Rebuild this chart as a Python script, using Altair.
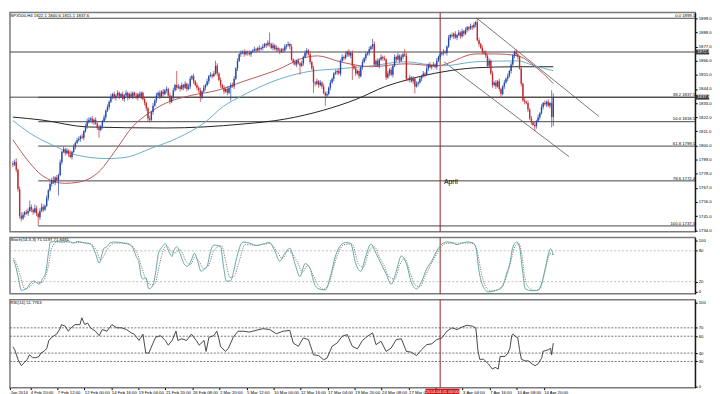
import json
import altair as alt
import pandas as pd

# ---------------- data ----------------
first_open = 1786
closes = [
    1785, 1787, 1781, 1766, 1745, 1743, 1746, 1748, 1747, 1749,
    1752, 1750, 1748, 1751, 1747, 1744, 1749, 1752, 1750, 1753,
    1759, 1765, 1770, 1773, 1771, 1775, 1773, 1777, 1787, 1795,
    1797, 1794, 1796, 1793, 1791, 1795, 1799, 1802, 1804, 1805,
    1807, 1806, 1811, 1815, 1818, 1820, 1821, 1818, 1820, 1817,
    1814, 1812, 1815, 1819, 1822, 1827, 1830, 1834, 1838, 1840,
    1837, 1839, 1841, 1838, 1840, 1836, 1839, 1841, 1837, 1840,
    1838, 1841, 1839, 1837, 1840, 1838, 1841, 1836, 1833, 1829,
    1821, 1820, 1826, 1831, 1835, 1839, 1841, 1838, 1842, 1840,
    1843, 1844, 1839, 1834, 1838, 1843, 1847, 1845, 1846, 1844,
    1847, 1845, 1848, 1844, 1846, 1852, 1854, 1850, 1847, 1845,
    1843, 1838, 1842, 1845, 1847, 1850, 1854, 1855, 1854, 1856,
    1862, 1856, 1851, 1847, 1845, 1842, 1844, 1841, 1845, 1847,
    1846, 1852, 1860, 1866, 1871, 1872, 1873, 1871, 1873, 1872,
    1871, 1873, 1874, 1875, 1874, 1876, 1875, 1876, 1877, 1879,
    1878, 1880, 1879, 1876, 1878, 1875, 1876, 1874, 1873, 1875,
    1874, 1877, 1878, 1879, 1877, 1867, 1865, 1863, 1866, 1864,
    1862, 1864, 1869, 1872, 1874, 1871, 1865, 1860, 1849, 1848,
    1850, 1847, 1849, 1846, 1841, 1839, 1840, 1845, 1849, 1852,
    1856, 1857, 1858, 1856, 1866, 1869, 1868, 1871, 1873, 1870,
    1872, 1862, 1860, 1856, 1858, 1854, 1861, 1865, 1868, 1871,
    1872, 1875, 1877, 1879, 1863, 1866, 1862, 1867, 1869, 1868,
    1867, 1853, 1856, 1859, 1855, 1862, 1869, 1867, 1870, 1866,
    1869, 1871, 1870, 1852, 1851, 1853, 1850, 1852, 1846, 1848,
    1849, 1852, 1854, 1856, 1855, 1860, 1863, 1861, 1862, 1863,
    1861, 1866, 1869, 1871, 1872, 1873, 1872, 1877, 1884, 1886,
    1885, 1887, 1884, 1886, 1888, 1885, 1889, 1887, 1890, 1892,
    1891, 1893, 1892, 1894, 1896, 1882, 1879, 1876, 1873, 1872,
    1870, 1862, 1866, 1856, 1847, 1849, 1846, 1850, 1844, 1840,
    1846, 1849, 1852, 1854, 1858, 1863, 1870, 1873, 1871, 1869,
    1860, 1848, 1835, 1834, 1833, 1828, 1821, 1818, 1816, 1815,
    1819, 1822, 1825, 1830, 1833, 1832, 1834, 1831, 1833, 1822.1,
    1837.6,
]
wick_up = [
    2, 2, 3, 1, 2, 3, 2, 1, 2, 2,   5, 2, 1, 3, 2, 1, 2, 3, 2, 1,
    2, 1, 2, 2, 3, 1, 2, 1, 2, 1,   2, 1, 2, 1, 3, 1, 2, 1, 2, 2,
    1, 2, 1, 2, 3, 2, 1, 2, 1, 2,   1, 2, 1, 1, 2, 1, 2, 1, 2, 1,
    2, 1, 2, 1, 1, 2, 1, 2, 1, 1,   2, 1, 1, 2, 1, 2, 1, 1, 2, 1,
    1, 2, 1, 2, 1, 2, 1, 2, 1, 2,   1, 2, 1, 2, 1, 2, 1, 11, 2, 1,
    2, 1, 2, 1, 2, 2, 1, 2, 1, 2,   1, 2, 1, 2, 1, 2, 1, 2, 1, 2,
    4, 2, 1, 2, 1, 2, 1, 2, 1, 2,   2, 2, 1, 2, 1, 2, 1, 2, 1, 1,
    2, 1, 1, 2, 1, 1, 2, 1, 2, 1,   1, 2, 8, 1, 2, 1, 2, 1, 2, 1,
    1, 2, 1, 2, 1, 2, 1, 2, 1, 2,   1, 2, 1, 2, 2, 1, 2, 1, 2, 1,
    2, 1, 2, 1, 2, 1, 2, 1, 2, 1,   1, 2, 1, 2, 1, 2, 1, 2, 1, 2,
    1, 2, 1, 2, 1, 2, 1, 2, 1, 2,   1, 2, 1, 4, 2, 1, 2, 1, 2, 1,
    2, 1, 2, 1, 2, 1, 2, 1, 2, 1,   2, 1, 4, 2, 1, 2, 1, 2, 1, 2,
    1, 2, 1, 2, 1, 2, 1, 2, 1, 2,   1, 2, 1, 2, 1, 2, 1, 1, 2, 1,
    2, 1, 2, 1, 2, 1, 2, 1, 2, 1,   1, 2, 1, 2, 1, 3.1, 2, 1, 2, 1,
    2, 1, 2, 1, 2, 1, 2, 1, 2, 1,   1, 2, 1, 2, 1, 2, 1, 1, 2, 1,
    1, 2, 1, 2, 1, 2, 1, 2, 1, 2,   1, 2, 1, 2, 1, 2, 1, 2, 1, 10,
    3,
]
wick_dn = [
    2, 1, 2, 2, 2, 2, 1, 2, 1, 2,   1, 2, 2, 1, 2, 6.7, 2, 1, 2, 1,
    1, 2, 1, 2, 1, 2, 1, 12, 1, 2,  1, 2, 1, 2, 1, 2, 1, 2, 1, 1,
    2, 1, 2, 1, 2, 1, 2, 1, 2, 1,   2, 6, 1, 2, 1, 2, 1, 2, 1, 2,
    1, 2, 1, 2, 1, 1, 2, 1, 2, 1,   1, 2, 1, 1, 2, 1, 2, 1, 2, 2,
    2, 2, 1, 2, 1, 2, 1, 2, 1, 2,   1, 2, 1, 2, 1, 2, 1, 2, 1, 2,
    1, 2, 1, 2, 1, 2, 1, 2, 1, 2,   2, 4, 2, 1, 2, 1, 2, 1, 2, 1,
    1, 2, 1, 2, 1, 2, 1, 2, 1, 10,  1, 2, 1, 2, 1, 2, 1, 2, 1, 2,
    1, 2, 1, 1, 2, 1, 2, 1, 2, 1,   2, 1, 2, 1, 2, 1, 2, 1, 2, 1,
    2, 1, 2, 1, 2, 1, 2, 1, 2, 1,   7, 1, 2, 1, 2, 1, 2, 1, 8, 2,
    1, 2, 1, 2, 1, 8.5, 2, 1, 2, 1, 2, 1, 2, 1, 2, 1, 2, 1, 2, 1,
    2, 11, 1, 2, 1, 2, 1, 2, 1, 2,  1, 2, 1, 2, 1, 2, 1, 2, 1, 2,
    1, 2, 1, 2, 1, 2, 1, 2, 1, 2,   1, 2, 1, 2, 1, 2, 1, 2, 5.5, 1,
    2, 1, 2, 1, 2, 1, 2, 1, 2, 1,   1, 2, 1, 2, 1, 2, 1, 2, 1, 2,
    1, 2, 1, 2, 1, 2, 1, 2, 1, 2,   2, 1, 2, 1, 2, 1, 2, 1, 2, 1,
    2, 1, 2, 1, 2, 1, 2, 1, 2, 3,   1, 2, 1, 2, 1, 2, 1, 2, 1, 2,
    1, 2, 1, 2, 1, 2, 1, 2, 1, 4,   2, 1, 2, 1, 2, 1, 2, 1, 2, 8,
    7,
]

ma50 = [(0, 1804.4), (9.8, 1786.7), (17.2, 1776.7), (31, 1770.5), (38.5, 1771.3),
        (51.7, 1780.5), (59.8, 1794.4), (71.3, 1815.2), (80.5, 1825.2), (90.2, 1832.8),
        (105.7, 1839), (120.7, 1842.8), (136.2, 1849.8), (155.2, 1858.2), (174.7, 1869),
        (180.5, 1869.8), (193.7, 1865.2), (212.6, 1861.3), (232.2, 1863.6), (251.1, 1862.1),
        (274.1, 1871.3), (285.6, 1871.3), (298.9, 1869.8), (308.6, 1862.1), (320, 1848.2)]
ma100 = [(0, 1819.4), (9.8, 1809.8), (27, 1798.2), (36.8, 1792.8), (55.7, 1789.8),
         (65.5, 1790.5), (82.8, 1798.2), (97.7, 1805.9), (113.2, 1817.5), (124.7, 1830.5),
         (136.2, 1839), (155.2, 1850.5), (174.7, 1857.5), (193.7, 1859.8), (212.6, 1862.1),
         (232.2, 1865.2), (247.1, 1862.8), (255.2, 1862.1), (274.1, 1865.2), (298.9, 1865.9),
         (308.6, 1862.1), (320, 1858.2)]
ma200 = [(0, 1822.1), (17.2, 1819.8), (44.3, 1814.4), (90.2, 1813.6), (136.2, 1816.7),
         (161, 1820.5), (184, 1827.5), (203.4, 1836), (220.7, 1846), (233.9, 1851.3),
         (255.2, 1857.5), (274.1, 1860.5), (297.1, 1861.3), (320, 1861.3)]

channel_upper = [(274.7, 1899.1), (347, 1822.6)]
channel_lower = [(255.2, 1865.2), (329.3, 1791.3)]

fib_levels = [1899.1, 1837.5, 1818.5, 1799.5, 1772.4, 1737.3]
fib_labels = ["0.0 1899.1", "38.2 1837.5", "50.0 1818.5", "61.8 1799.5", "78.6 1772.4", "100.0 1737.3"]
fib_start = 15
full_lines = [1872.8, 1837.6]
axis_boxes = [(1872.8, "1872.8"), (1837.6, "1837.6")]
april_idx = 253

stoch_main = [(0, 62), (1.1, 56), (3, 31), (5, 3), (7.9, 6), (10.7, 18), (12.6, 21), (15.5, 15),
    (17.4, 25), (19.4, 37), (21.3, 81), (22.2, 97), (27, 98), (29.9, 97), (32.8, 99), (35.6, 95),
    (38.5, 98), (42.5, 95), (46, 93), (48.9, 75), (51.1, 56), (52.9, 75), (54, 85), (55.7, 88),
    (57.5, 95), (60.3, 97), (65.5, 95), (69, 92), (71.3, 84), (73, 69), (74.7, 56), (75.9, 31),
    (77, 25), (78.7, 28), (80.5, 6), (82.8, 12), (84.5, 37), (86.2, 75), (88.5, 88), (90.2, 94),
    (92, 81), (94.3, 69), (94.8, 75), (97.1, 88), (98.9, 75), (101.7, 53), (103.4, 50), (105.7, 62),
    (107.5, 75), (109.2, 62), (111.5, 40), (113.2, 44), (115, 50), (117.2, 81), (119, 91), (123, 88),
    (124.7, 50), (126.4, 21), (128.7, 21), (130.5, 37), (132.2, 62), (136.2, 97), (140, 95), (144, 90),
    (148, 93), (152, 96), (155, 80), (158, 60), (161, 75), (164, 85), (167, 55), (170, 30), (173, 55),
    (176, 45), (179, 12), (182, 5), (185, 4), (188, 30), (191, 70), (194, 90), (197, 96), (200, 94),
    (203, 55), (206, 40), (209, 70), (212, 93), (215, 75), (218, 55), (221, 35), (224, 15), (227, 40),
    (230, 70), (233, 55), (236, 18), (239, 6), (242, 20), (245, 45), (248, 60), (251, 80), (254, 93),
    (257, 97), (260, 96), (263, 92), (266, 95), (269, 97), (272, 96), (274.1, 87), (275.9, 43),
    (278.2, 12), (281.6, 0), (285.6, 2.5), (289.7, 9), (292.5, 37), (294.3, 56), (296, 87),
    (298.3, 97), (300, 87), (301.7, 43), (303.4, 6), (306.9, 2.5), (310.3, 2.5), (312.6, 12),
    (315.5, 50), (317.2, 75), (318.4, 84), (320, 71.5)]
stoch_signal = [(0, 66), (2.5, 52), (4.5, 30), (7, 6), (10, 10), (13, 19), (16.5, 18), (19, 27),
    (21, 50), (23, 85), (26, 97), (31, 97), (36, 96), (41, 96), (46, 94), (49.5, 80), (52, 62),
    (54.5, 74), (57, 88), (61, 95), (67, 95), (71, 88), (74, 72), (76.5, 45), (78.5, 27), (81.5, 14),
    (84, 15), (86, 40), (88, 70), (91, 90), (93.5, 80), (96, 76), (99, 82), (102.5, 60), (105, 53),
    (108, 68), (110.5, 58), (113, 45), (116, 52), (119, 80), (123.5, 90), (126, 60), (128.5, 28),
    (131, 30), (134, 60), (137.5, 92), (144, 91), (152, 94), (156.5, 78), (159.5, 65), (163, 80),
    (168.5, 58), (171.5, 38), (174.5, 52), (177.5, 35), (181, 12), (184, 5), (187, 15), (190, 50),
    (193, 78), (196, 92), (201, 93), (204.5, 55), (207.5, 48), (211, 80), (214, 88), (217, 68),
    (220, 50), (223, 28), (226, 25), (229, 52), (232, 65), (235, 40), (238, 14), (241, 10), (244, 30),
    (247, 50), (250, 68), (253, 85), (256, 94), (262, 95), (268, 95), (273, 94), (275.5, 70),
    (277.5, 35), (280, 10), (283, 2), (287, 4), (291, 20), (293.5, 42), (295.5, 68), (297.5, 90),
    (299.5, 94), (301.5, 70), (303, 30), (305.5, 8), (309, 3), (312, 5), (314, 25), (316.5, 60),
    (318, 75), (320, 71.8)]

rsi = [(0, 47.5), (1.1, 44), (3, 32.6), (5, 25), (6.9, 29), (8.6, 32.6), (9.8, 38), (11.7, 34.5),
    (13.6, 34.5), (15.5, 36), (16.5, 40), (18.4, 42), (20.1, 45.7), (21.3, 55), (23, 58.8), (25.9, 62.5),
    (28.2, 70), (28.7, 73.8), (31, 72), (32.8, 66), (34.5, 70), (36.8, 73.8), (39.7, 73.8), (40.8, 82),
    (42.5, 74), (44.3, 75.6), (46, 70), (48.9, 66), (51.1, 60.7), (52.9, 68), (55.7, 66), (58.6, 73.8),
    (61.5, 70), (64.4, 70), (67.2, 68), (70.1, 64), (71.8, 62.5), (74.7, 55), (77, 62.5), (78.7, 40),
    (80.5, 40), (82.8, 51), (84.5, 58.8), (87.4, 60.7), (90.2, 55), (92, 49.4), (94.3, 55), (96.6, 66),
    (97.7, 55), (100, 57), (102.9, 55), (105.7, 62.5), (108.6, 55), (110.3, 49.4), (113.2, 55),
    (114.4, 42), (116.1, 58.8), (119, 60.7), (120.7, 66), (121.8, 58.8), (123, 47.5), (125.9, 42),
    (127.6, 45.7), (130.5, 58.8), (133.3, 66), (136.2, 66), (140, 65), (144, 67), (148, 69), (152, 68),
    (156, 63), (160, 66), (164, 67), (166, 52), (169, 48), (172, 58), (175, 56), (178, 38), (181, 37),
    (184, 32), (186, 34), (189, 48), (192, 52), (195, 60), (198, 62), (201, 48), (204, 45), (207, 55),
    (210, 60), (213, 64), (215, 50), (218, 54), (221, 42), (224, 46), (227, 56), (230, 57), (233, 42),
    (236, 41), (239, 37), (242, 44), (245, 50), (248, 51), (251, 56), (254, 58), (257, 66), (260, 70),
    (263, 68), (266, 71), (269, 73), (272, 72), (274.1, 70), (275.3, 44), (276.4, 32.6), (278.7, 32.6),
    (281.6, 27), (283.9, 21), (285.6, 23), (287.4, 21), (288.5, 36), (291.4, 36), (293.1, 40),
    (294.3, 45.7), (295.4, 60.7), (296, 62.5), (298.3, 58.8), (298.9, 58.8), (300, 44), (301.1, 32.6),
    (303.4, 30.7), (305.2, 30.7), (307.5, 27), (309.2, 25), (310.9, 27), (313.2, 34.5), (313.8, 42),
    (315.5, 43), (317.2, 44), (318.4, 45.7), (319, 38), (320, 51.8)]

price_ticks = [1734, 1745, 1756, 1767, 1778, 1789, 1800, 1811, 1822, 1833, 1844, 1855, 1866, 1877, 1888, 1899]
stoch_ticks = [0, 20, 80, 100]
stoch_levels = [20, 80]
rsi_ticks = [0, 30, 40, 60, 70, 100]
rsi_levels = [30, 40, 60, 70]
x_ticks = [-1.7, 10.3, 26.3, 42.3, 58.3, 74.3, 90.3, 106.3, 122.3, 138.3, 154.3,
           170.3, 186.3, 202.3, 218.3, 234.3, 250.3, 266.3, 282.3, 298.3, 314.3]
x_labels = ["Jan 2014", "4 Feb 20:00", "7 Feb 12:00", "12 Feb 00:00", "14 Feb 16:00", "19 Feb 04:00",
            "21 Feb 20:00", "26 Feb 08:00", "2 Mar 20:00", "5 Mar 12:00", "10 Mar 00:00",
            "12 Mar 16:00", "17 Mar 04:00", "19 Mar 20:00", "24 Mar 08:00", "27 Mar 00:00",
            "", "3 Apr 04:00", "7 Apr 16:00", "10 Apr 08:00", "14 Apr 20:00"]

title_text = "SPX500,H4  1822.1 1840.6 1815.1 1837.6"
stoch_title = "Stoch(14,3,3) 71.5197 71.8481"
rsi_title = "RSI(14) 51.7763"
date_box = "2014.04.01 00:00"

# ---------------- layout / style ----------------
W = 694
X_DOM = [-1.724, 404.02]
P_DOM = [1732.85, 1903.62]
S_DOM = [-3.77, 105.66]
R_DOM = [-1.12, 103.37]
BLUE = "#2348a8"
RED = "#c0282d"
FS = 4.3

xs = alt.Scale(domain=X_DOM, nice=False, zero=False)


def X(field="i", axis=None):
    return alt.X(f"{field}:Q", scale=xs, axis=axis)


def yaxis(values, fmt):
    return alt.Axis(orient="right", values=values, format=fmt, labelFontSize=FS,
                    tickSize=2, labelPadding=1, domainColor="black", tickColor="black",
                    labelColor="black", grid=False, title=None, labelOverlap=False)


def Y(field, dom, ax):
    return alt.Y(f"{field}:Q", scale=alt.Scale(domain=dom, nice=False, zero=False), axis=ax)


# ---- price panel ----
n = len(closes)
opens = [first_open] + closes[:-1]
candles = pd.DataFrame({
    "i": list(range(n)),
    "open": opens,
    "close": closes,
    "high": [max(o, c) + w for o, c, w in zip(opens, closes, wick_up)],
    "low": [min(o, c) - w for o, c, w in zip(opens, closes, wick_dn)],
})
pax = yaxis(price_ticks, ".1f")
col = alt.condition("datum.close >= datum.open", alt.value(BLUE), alt.value(RED))

wicks = alt.Chart(candles).mark_rule(strokeWidth=0.7).encode(
    x=X(), y=Y("low", P_DOM, pax), y2="high", color=col)
bodies = alt.Chart(candles).mark_rule(strokeWidth=1.4).encode(
    x=X(), y=Y("open", P_DOM, pax), y2="close", color=col)

fib_df = pd.DataFrame({"x": [fib_start] * len(fib_levels), "x2": [X_DOM[1]] * len(fib_levels),
                       "p": fib_levels, "t": fib_labels})
fib_rules = alt.Chart(fib_df).mark_rule(color="#444", strokeWidth=1).encode(
    x=X("x"), x2="x2", y=Y("p", P_DOM, pax))
fib_text = alt.Chart(fib_df).mark_text(align="right", baseline="bottom", fontSize=FS,
                                       color="black", dy=-0.3).encode(
    x=X("x2"), y=Y("p", P_DOM, pax), text="t")

full_df = pd.DataFrame({"x": [X_DOM[0]] * len(full_lines), "x2": [X_DOM[1]] * len(full_lines),
                        "p": full_lines})
full_rules = alt.Chart(full_df).mark_rule(color="#444", strokeWidth=1).encode(
    x=X("x"), x2="x2", y=Y("p", P_DOM, pax))

ch_rows = [{"name": "up", "i": a, "p": b} for a, b in channel_upper] + \
          [{"name": "lo", "i": a, "p": b} for a, b in channel_lower]
channels = alt.Chart(pd.DataFrame(ch_rows)).mark_line(color="#555", strokeWidth=0.8).encode(
    x=X(), y=Y("p", P_DOM, pax), detail="name:N")


def ma_layer(pts, color, width=1):
    df = pd.DataFrame(pts, columns=["i", "p"])
    return alt.Chart(df).mark_line(color=color, strokeWidth=width, interpolate="monotone").encode(
        x=X(), y=Y("p", P_DOM, pax))


ma_lines = [ma_layer(ma200, "#222222", 1), ma_layer(ma100, "#6aaecb", 1), ma_layer(ma50, "#b85a5a", 1)]

april_p = pd.DataFrame({"i": [april_idx], "a": [P_DOM[0]], "b": [P_DOM[1]]})
april_rule_p = alt.Chart(april_p).mark_rule(color="#8b2323", strokeWidth=1).encode(
    x=X(), y=Y("a", P_DOM, pax), y2="b")
april_text = alt.Chart(pd.DataFrame({"i": [april_idx + 2.2], "p": [1771.3], "t": ["April"]})).mark_text(
    align="left", baseline="middle", fontSize=7, color="black").encode(
    x=X(), y=Y("p", P_DOM, pax), text="t")
title_mark = alt.Chart(pd.DataFrame({"i": [X_DOM[0] + 0.3], "p": [1901.0], "t": [title_text]})).mark_text(
    align="left", baseline="middle", fontSize=FS, color="black").encode(
    x=X(), y=Y("p", P_DOM, pax), text="t")

box_df = pd.DataFrame({"x": [404.3] * len(axis_boxes), "x2": [412.3] * len(axis_boxes),
                       "p": [b[0] for b in axis_boxes], "t": [b[1] for b in axis_boxes]})
box_df["lo"] = box_df["p"] - 1.9
box_df["hi"] = box_df["p"] + 1.9
boxes = alt.Chart(box_df).mark_rect(color="#3a3a3a").encode(
    x=X("x"), x2="x2", y=Y("lo", P_DOM, pax), y2="hi")
box_text = alt.Chart(box_df).mark_text(align="left", baseline="middle", fontSize=FS, color="white",
                                       dx=1.5).encode(
    x=X("x"), y=Y("p", P_DOM, pax), text="t")

price = alt.layer(fib_rules, full_rules, april_rule_p, channels, *ma_lines, wicks, bodies,
                  fib_text, title_mark, april_text, boxes, box_text).properties(width=W, height=222)

# ---- stochastic panel ----
sax = yaxis(stoch_ticks, "d")
s_lv = pd.DataFrame({"x": [X_DOM[0]] * 2, "x2": [X_DOM[1]] * 2, "v": stoch_levels})
s_levels = alt.Chart(s_lv).mark_rule(color="#b0b0b0", strokeWidth=0.8, strokeDash=[2, 2]).encode(
    x=X("x"), x2="x2", y=Y("v", S_DOM, sax))
s_main = alt.Chart(pd.DataFrame(stoch_main, columns=["i", "v"])).mark_line(
    color="#5ea9a2", strokeWidth=1, interpolate="monotone").encode(x=X(), y=Y("v", S_DOM, sax))
s_sig = alt.Chart(pd.DataFrame(stoch_signal, columns=["i", "v"])).mark_line(
    color="#8a6f6f", strokeWidth=0.9, strokeDash=[1.2, 1.2], interpolate="monotone").encode(
    x=X(), y=Y("v", S_DOM, sax))
april_s = alt.Chart(pd.DataFrame({"i": [april_idx], "a": [S_DOM[0]], "b": [S_DOM[1]]})).mark_rule(
    color="#8b2323", strokeWidth=1).encode(x=X(), y=Y("a", S_DOM, sax), y2="b")
s_title = alt.Chart(pd.DataFrame({"i": [X_DOM[0] + 0.3], "v": [100.5], "t": [stoch_title]})).mark_text(
    align="left", baseline="middle", fontSize=FS, color="black").encode(
    x=X(), y=Y("v", S_DOM, sax), text="t")
stoch = alt.layer(s_levels, april_s, s_sig, s_main, s_title).properties(width=W, height=57)

# ---- RSI panel ----
rax = yaxis(rsi_ticks, "d")
label_expr = f"{json.dumps(x_labels)}[indexof({json.dumps(x_ticks)}, datum.value)]"
xaxis = alt.Axis(values=x_ticks, labelExpr=label_expr, labelFontSize=FS, labelAlign="left",
                 labelColor="black", tickSize=2, tickColor="black", labelPadding=1, domain=False,
                 grid=False, title=None, labelOverlap=False, labelFlush=False)
r_lv = pd.DataFrame({"x": [X_DOM[0]] * 4, "x2": [X_DOM[1]] * 4, "v": rsi_levels})
r_levels = alt.Chart(r_lv).mark_rule(color="#555", strokeWidth=0.8, strokeDash=[2, 1.5]).encode(
    x=X("x", xaxis), x2="x2", y=Y("v", R_DOM, rax))
r_line = alt.Chart(pd.DataFrame(rsi, columns=["i", "v"])).mark_line(
    color="#333", strokeWidth=0.9).encode(x=X("i", xaxis), y=Y("v", R_DOM, rax))
april_r = alt.Chart(pd.DataFrame({"i": [april_idx], "a": [R_DOM[0]], "b": [R_DOM[1]]})).mark_rule(
    color="#8b2323", strokeWidth=1).encode(x=X("i", xaxis), y=Y("a", R_DOM, rax), y2="b")
r_title = alt.Chart(pd.DataFrame({"i": [X_DOM[0] + 0.3], "v": [99.5], "t": [rsi_title]})).mark_text(
    align="left", baseline="middle", fontSize=FS, color="black").encode(
    x=X("i", xaxis), y=Y("v", R_DOM, rax), text="t")
db = pd.DataFrame({"x": [244.3], "x2": [264.4], "lo": [-9.5], "hi": [-2.4], "v": [-6.0],
                   "xm": [254.35], "t": [date_box]})
date_rect = alt.Chart(db).mark_rect(color="#d4161c").encode(
    x=X("x", xaxis), x2="x2", y=Y("lo", R_DOM, rax), y2="hi")
date_text = alt.Chart(db).mark_text(align="center", baseline="middle", fontSize=FS,
                                    color="white").encode(
    x=X("xm", xaxis), y=Y("v", R_DOM, rax), text="t")
rsi_panel = alt.layer(r_levels, april_r, r_line, r_title, date_rect, date_text).properties(
    width=W, height=89)

chart = alt.vconcat(price, stoch, rsi_panel, spacing=2).properties(
    padding=0, background="white",
).configure(font="Liberation Sans").configure_view(stroke="#7a7a7a", strokeWidth=1.5)

chart.save("out.html", embed_options={"renderer": "svg", "actions": False})
